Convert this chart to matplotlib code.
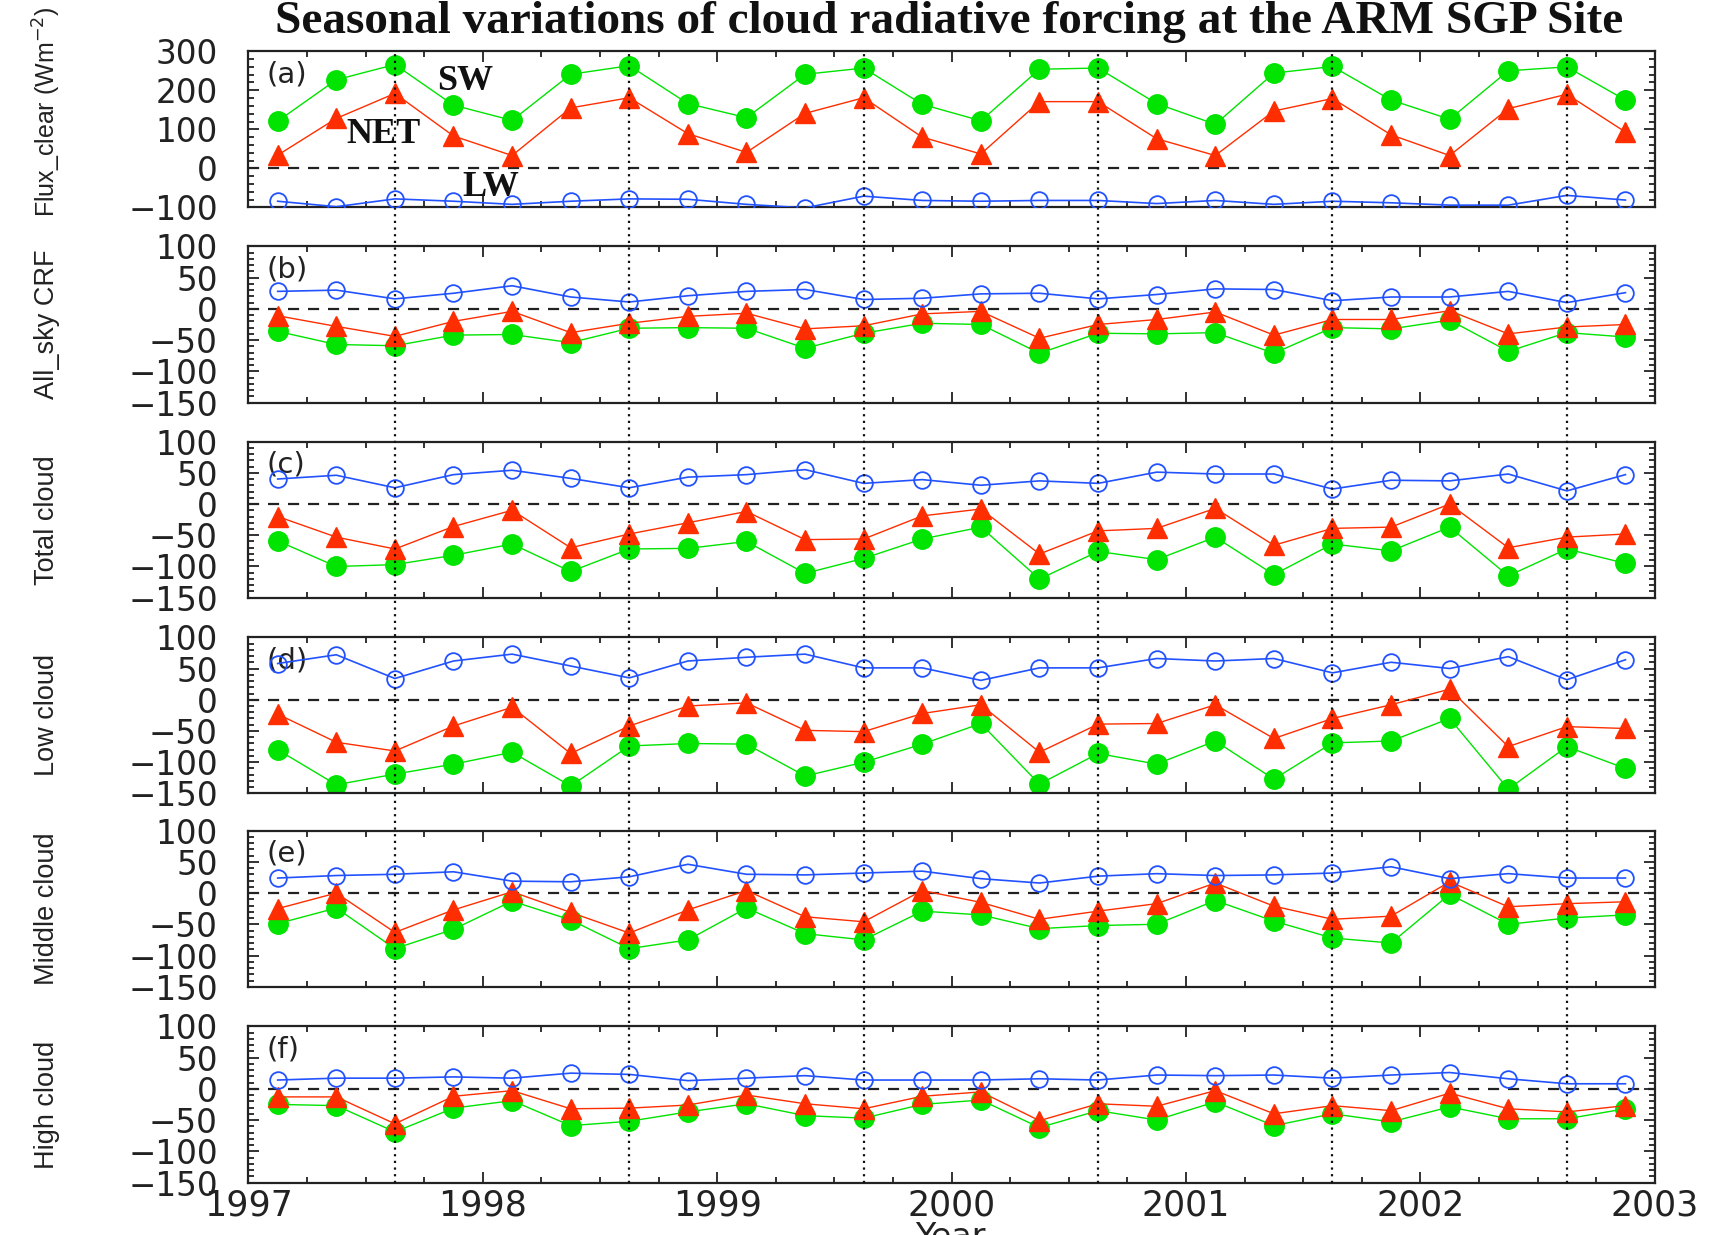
"""Seasonal cloud radiative forcing at the ARM SGP site, six stacked panels."""

import matplotlib

matplotlib.use("Agg")
import matplotlib.pyplot as plt
from matplotlib.lines import Line2D
from matplotlib.ticker import MultipleLocator
from matplotlib.transforms import blended_transform_factory

# season centres (fractional year), 24 seasons 1997-2002
season_time = [
    1997.125, 1997.375, 1997.625, 1997.875,
    1998.125, 1998.375, 1998.625, 1998.875,
    1999.125, 1999.375, 1999.625, 1999.875,
    2000.125, 2000.375, 2000.625, 2000.875,
    2001.125, 2001.375, 2001.625, 2001.875,
    2002.125, 2002.375, 2002.625, 2002.875,
]
summer_marks = [1997.625, 1998.625, 1999.625, 2000.625, 2001.625, 2002.625]

# (a) clear-sky fluxes
a_sw = [121, 227, 266, 162, 123, 241, 263, 166, 130, 241, 257, 164,
        122, 254, 257, 166, 113, 244, 261, 175, 126, 250, 260, 175]
a_net = [34, 128, 192, 83, 33, 155, 181, 89, 41, 141, 181, 80,
         37, 171, 171, 76, 33, 147, 179, 86, 33, 153, 190, 93]
a_lw = [-84, -98, -78, -84, -92, -84, -78, -79, -92, -101, -71, -82,
        -84, -82, -82, -90, -82, -92, -84, -88, -94, -94, -69, -81]

# (b) all-sky CRF
b_sw = [-36, -57, -59, -42, -41, -54, -31, -30, -31, -63, -39, -23,
        -25, -71, -39, -40, -38, -71, -30, -32, -18, -68, -38, -45]
b_net = [-11, -28, -44, -20, -4, -38, -23, -12, -7, -32, -27, -8,
         -4, -47, -25, -17, -5, -42, -17, -17, -3, -40, -29, -25]
b_lw = [28, 30, 16, 25, 37, 19, 11, 21, 28, 31, 15, 17,
        24, 25, 16, 23, 32, 31, 13, 19, 19, 28, 10, 26]

# (c) total cloud
c_sw = [-59, -100, -97, -82, -64, -108, -72, -71, -60, -111, -87, -56,
        -37, -120, -76, -89, -53, -113, -64, -75, -37, -115, -72, -95]
c_net = [-20, -53, -72, -36, -10, -70, -48, -30, -12, -57, -56, -19,
         -8, -80, -43, -39, -7, -66, -39, -37, 0, -70, -53, -48]
c_lw = [40, 46, 26, 47, 54, 41, 26, 43, 47, 55, 33, 39,
        30, 37, 33, 51, 48, 48, 24, 38, 37, 48, 21, 47]

# (d) low cloud
d_sw = [-80, -136, -119, -103, -84, -138, -74, -70, -71, -122, -100, -71,
        -38, -135, -86, -103, -66, -127, -69, -66, -30, -143, -75, -110]
d_net = [-23, -68, -82, -42, -12, -86, -42, -10, -5, -49, -51, -22,
         -8, -84, -39, -38, -8, -62, -30, -8, 17, -75, -43, -46]
d_lw = [58, 72, 34, 62, 73, 54, 35, 62, 68, 73, 51, 51,
        31, 51, 51, 66, 62, 66, 43, 60, 50, 69, 32, 64]

# (e) middle cloud
e_sw = [-49, -24, -89, -58, -13, -43, -89, -75, -24, -65, -75, -29,
        -35, -57, -52, -50, -12, -45, -72, -80, -2, -50, -40, -35]
e_net = [-25, 0, -63, -27, 2, -31, -64, -27, 4, -38, -46, 4,
         -15, -42, -29, -17, 16, -21, -42, -37, 18, -22, -17, -14]
e_lw = [24, 28, 30, 34, 19, 18, 26, 46, 30, 29, 32, 35,
        23, 16, 27, 31, 28, 29, 32, 42, 23, 31, 24, 24]

# (f) high cloud
f_sw = [-25, -27, -69, -31, -19, -59, -52, -37, -24, -43, -47, -25,
        -18, -62, -35, -50, -21, -59, -40, -53, -29, -48, -48, -32]
f_net = [-13, -13, -56, -12, -3, -32, -31, -26, -10, -24, -32, -12,
         -5, -51, -24, -28, -3, -40, -27, -35, -7, -32, -37, -27]
f_lw = [14, 17, 17, 19, 17, 25, 23, 13, 17, 21, 14, 14,
        14, 16, 14, 22, 21, 22, 17, 22, 26, 16, 8, 8]

panel_tags = ["(a)", "(b)", "(c)", "(d)", "(e)", "(f)"]
panel_ylabels = ["Flux_clear (Wm$^{-2}$)", "All_sky CRF", "Total cloud",
                 "Low cloud", "Middle cloud", "High cloud"]
panel_sw = [a_sw, b_sw, c_sw, d_sw, e_sw, f_sw]
panel_net = [a_net, b_net, c_net, d_net, e_net, f_net]
panel_lw = [a_lw, b_lw, c_lw, d_lw, e_lw, f_lw]

GREEN = "#00e400"
RED = "#ff2e00"
BLUE = "#2252ff"

fig = plt.figure(figsize=(17.13, 12.35), dpi=100)

left, width, height = 0.145, 0.821, 0.1265
bottoms = [0.832, 0.674, 0.516, 0.3575, 0.201, 0.0425]

axes = []
for i in range(6):
    ax = fig.add_axes([left, bottoms[i], width, height])
    axes.append(ax)

    ax.axhline(0, color="#222222", lw=1.6, ls=(0, (5, 4)), zorder=1)
    ax.plot(season_time, panel_sw[i], "-o", color=GREEN, lw=1.0, ms=14,
            mec=GREEN, zorder=2)
    ax.plot(season_time, panel_net[i], "-^", color=RED, lw=1.0, ms=14,
            mec=RED, zorder=3)
    ax.plot(season_time, panel_lw[i], "-o", color=BLUE, lw=1.2, ms=12,
            mfc="none", mec=BLUE, mew=1.3, zorder=4)

    ax.set_xlim(1997, 2003)
    if i == 0:
        ax.set_ylim(-100, 300)
        ax.yaxis.set_major_locator(MultipleLocator(100))
        ax.yaxis.set_minor_locator(MultipleLocator(20))
    else:
        ax.set_ylim(-150, 100)
        ax.yaxis.set_major_locator(MultipleLocator(50))
        ax.yaxis.set_minor_locator(MultipleLocator(10))
    ax.xaxis.set_major_locator(MultipleLocator(1))
    ax.xaxis.set_minor_locator(MultipleLocator(0.25))
    ax.tick_params(which="both", direction="in", top=True, right=True,
                   width=1.3, colors="#222222")
    ax.tick_params(which="major", length=8)
    ax.tick_params(which="minor", length=4)
    ax.tick_params(axis="y", which="major", pad=22, labelsize=23.5)
    ax.tick_params(axis="x", which="major", pad=4, labelsize=25)
    for lab in ax.get_yticklabels() + ax.get_xticklabels():
        lab.set_family("DejaVu Sans")
    if i < 5:
        ax.tick_params(axis="x", labelbottom=False)
    for sp in ax.spines.values():
        sp.set_linewidth(1.6)
        sp.set_color("#222222")

    ax.set_ylabel(panel_ylabels[i], fontsize=18 if i == 0 else 19.5,
                  family="Liberation Sans", va="center", color="#222222")
    ax.yaxis.set_label_coords(-0.143, 0.61 if i == 0 else 0.5)
    ax.text(0.013, 0.85, panel_tags[i], transform=ax.transAxes, fontsize=21,
            family="DejaVu Sans", ha="left", va="center", color="#222222")

# series names in panel (a)
serif_bold = dict(family="Liberation Serif", weight="bold", fontsize=26,
                  ha="center", va="center", color="#111111")
axes[0].text(1997.923, 222, "SW", **serif_bold)
axes[0].text(1997.575, 86, "NET", **serif_bold)
axes[0].text(1998.035, -49, "LW", **serif_bold)

# dotted summer markers running through all panels
top_y = bottoms[0] + height
bot_y = bottoms[5]
trans = blended_transform_factory(axes[0].transData, fig.transFigure)
for xm in summer_marks:
    fig.add_artist(Line2D([xm, xm], [bot_y, top_y], transform=trans,
                          color="#111111", lw=1.6, ls=(0, (1, 2)), zorder=10))

fig.suptitle("Seasonal variations of cloud radiative forcing at the ARM SGP Site",
             x=0.554, y=0.982, va="center", family="Liberation Serif",
             weight="bold", fontsize=34, color="#111111")
fig.text(0.555, -0.002, "Year", ha="center", va="center", fontsize=24,
         family="DejaVu Sans", color="#222222")

fig.savefig("out.png", dpi=100)
